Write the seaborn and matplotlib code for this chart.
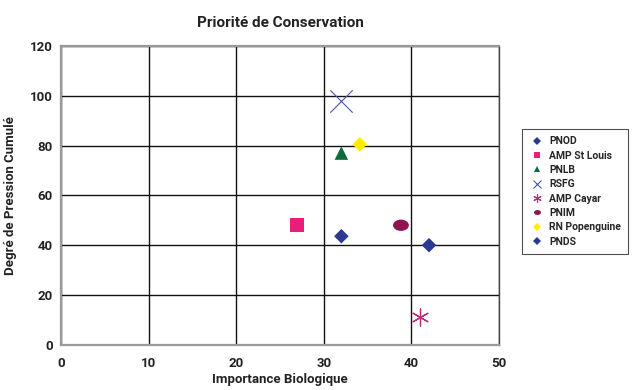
import matplotlib
matplotlib.use("Agg")
import matplotlib.pyplot as plt
import seaborn as sns
import pandas as pd
from matplotlib.path import Path
from matplotlib.transforms import Affine2D
from matplotlib.lines import Line2D

# Data
sites = ["PNOD", "AMP St Louis", "PNLB", "RSFG", "AMP Cayar", "PNIM", "RN Popenguine", "PNDS"]
importance = [32.0, 26.9, 32.0, 32.0, 41.0, 38.8, 34.1, 42.0]
pression = [43.6, 48.0, 77.0, 98.0, 11.3, 48.0, 80.5, 40.0]
x_ticks = [0, 10, 20, 30, 40, 50]
y_ticks = [0, 20, 40, 60, 80, 100, 120]

colors = ["#2b3990", "#ec1c7a", "#0b6b3a", "#4656b0", "#b5307a", "#8e1650", "#ffec00", "#2b3990"]
ellipse = Path.unit_circle().transformed(Affine2D().scale(1.4, 1.0))
markers = ["D", "s", "^", "x", (6, 2, 0), ellipse, "D", "D"]
sizes = [55, 100, 95, 260, 150, 130, 55, 55]
legend_ms = [4.0, 5.0, 4.8, 6.0, 6.0, 5.0, 4.0, 4.0]
lws = [0, 0, 0, 0.8, 0.9, 0, 0, 0]

df = pd.DataFrame({"site": sites, "x": importance, "y": pression})

sns.set_style("white")
plt.rcParams["font.family"] = ["Roboto", "DejaVu Sans"]

fig = plt.figure(figsize=(6.35, 3.9), dpi=100)
ax = fig.add_axes([0.096, 0.116, 0.690, 0.766])

for i, row in df.iterrows():
    sns.scatterplot(data=df.iloc[[i]], x="x", y="y", ax=ax, color=colors[i],
                    marker=markers[i], s=sizes[i], linewidth=lws[i],
                    edgecolor=colors[i] if lws[i] else "none", legend=False, zorder=3)

ax.set_xlim(0, 50)
ax.set_ylim(0, 120)
ax.set_xticks(x_ticks)
ax.set_yticks(y_ticks)
ax.grid(True, color="#111111", linewidth=1.0)
ax.set_axisbelow(True)
ax.tick_params(axis="x", length=0, labelsize=9.5, colors="#222222", pad=9)
ax.tick_params(axis="y", length=0, labelsize=9.5, colors="#222222", pad=6)
for lab in ax.get_xticklabels() + ax.get_yticklabels():
    lab.set_fontweight("bold")
for s in ["left", "bottom", "top"]:
    ax.spines[s].set_color("#999999")
    ax.spines[s].set_linewidth(1.6)
ax.spines["right"].set_color("#444444")
ax.spines["right"].set_linewidth(1.0)

ax.set_xlabel("Importance Biologique", fontsize=9.5, fontweight="bold", color="#222222", labelpad=2)
ax.set_ylabel("Degré de Pression Cumulé", fontsize=9.5, fontweight="bold", color="#222222", labelpad=9)
ax.set_title("Priorité de Conservation", fontsize=11, fontweight="bold", color="#222222", pad=14)

handles = [Line2D([], [], linestyle="none", marker=m, markersize=ms, color=c,
                  markeredgecolor=c, markeredgewidth=(0.8 if lw else 0))
           for m, ms, c, lw in zip(markers, legend_ms, colors, lws)]
leg = ax.legend(handles, sites, loc="upper left", bbox_to_anchor=(1.04, 0.74), frameon=True,
                fancybox=False, handletextpad=0.3, labelspacing=0.42,
                borderpad=0.7, handlelength=1.6, edgecolor="#222222", prop={"weight": "bold", "size": 7.5})
leg.get_frame().set_linewidth(0.8)

fig.savefig("out.png", dpi=100)
